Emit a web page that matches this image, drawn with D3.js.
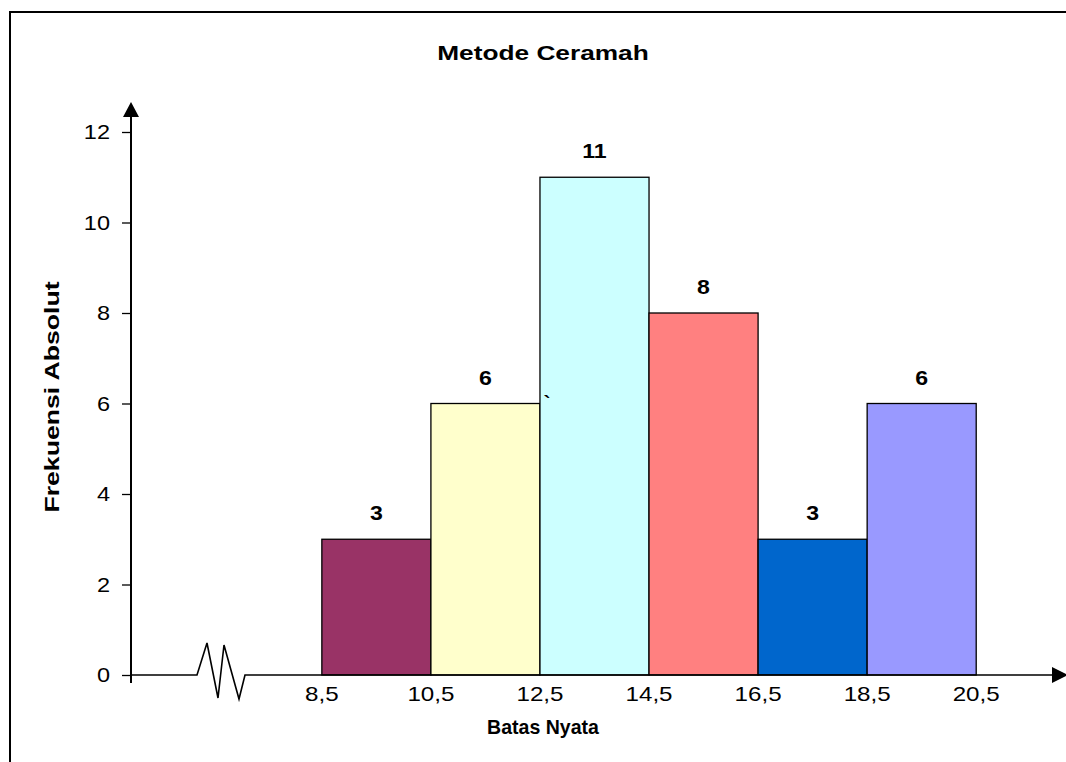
<!DOCTYPE html>
<html>
<head>
<meta charset="utf-8">
<script src="https://cdn.jsdelivr.net/npm/d3@7"></script>
<style>
  body { margin: 0; background: #fff; }
  svg { display: block; font-family: "Liberation Sans", Arial, sans-serif; }
</style>
</head>
<body>
<svg id="chart" width="1066" height="762"></svg>
<script>
// data
var binEdges = [8.5, 10.5, 12.5, 14.5, 16.5, 18.5, 20.5];
var edgeLabels = ["8,5", "10,5", "12,5", "14,5", "16,5", "18,5", "20,5"];
var freq = [3, 6, 11, 8, 3, 6];
var barColors = ["#993366", "#FFFFCC", "#CCFFFF", "#FF8080", "#0066CC", "#9999FF"];
var yTicks = [0, 2, 4, 6, 8, 10, 12];

var svg = d3.select("#chart");

// the original text is drawn a bit wider (or tighter) than normal Arial
function widen(sel, k) {
  sel.each(function() {
    var w = this.getComputedTextLength();
    d3.select(this).attr("textLength", w * k).attr("lengthAdjust", "spacingAndGlyphs");
  });
}

// outer frame
svg.append("rect")
    .attr("x", 10).attr("y", 12)
    .attr("width", 1100).attr("height", 800)
    .attr("fill", "none").attr("stroke", "#000").attr("stroke-width", 2);

var x = d3.scaleLinear().domain([5, 22]).range([131, 1058]);
var y = d3.scaleLinear().domain([0, 12]).range([675, 132]);

// bars
svg.selectAll(".bar")
    .data(freq)
  .enter().append("rect")
    .attr("class", "bar")
    .attr("x", function(d, i) { return x(binEdges[i]); })
    .attr("width", function(d, i) { return x(binEdges[i + 1]) - x(binEdges[i]); })
    .attr("y", function(d) { return y(d); })
    .attr("height", function(d) { return y(0) - y(d); })
    .attr("fill", function(d, i) { return barColors[i]; })
    .attr("stroke", "#000").attr("stroke-width", 1.3);

// value labels
svg.selectAll(".val")
    .data(freq)
  .enter().append("text")
    .attr("class", "val")
    .attr("x", function(d, i) { return (x(binEdges[i]) + x(binEdges[i + 1])) / 2; })
    .attr("y", function(d) { return y(d) - 19; })
    .attr("text-anchor", "middle")
    .attr("font-size", "21px").attr("font-weight", "bold")
    .text(function(d) { return d; })
    .call(widen, 1.1);

// stray mark from the original
svg.append("text")
    .attr("x", 547).attr("y", 410)
    .attr("text-anchor", "middle")
    .attr("font-size", "20px").attr("font-weight", "bold")
    .text("`");

// y axis
var yAxis = d3.axisLeft(y).tickValues(yTicks).tickSize(9).tickPadding(12);
var gy = svg.append("g")
    .attr("transform", "translate(" + x(5) + ",0)")
    .call(yAxis);
gy.select(".domain").remove();
gy.selectAll(".tick line").attr("stroke", "#000").attr("stroke-width", 1.3);
gy.selectAll(".tick text").attr("font-size", "21px").attr("fill", "#000")
    .attr("font-family", "Liberation Sans, Arial, sans-serif")
    .call(widen, 1.12);

svg.append("line")
    .attr("x1", x(5)).attr("x2", x(5))
    .attr("y1", y(0) + 8).attr("y2", 112)
    .attr("stroke", "#000").attr("stroke-width", 2);
svg.append("path")
    .attr("d", "M" + (x(5) - 8) + ",117 L" + x(5) + ",102 L" + (x(5) + 8) + ",117 Z")
    .attr("fill", "#000");

// x axis with break
var y0 = y(0);
svg.append("path")
    .attr("d", "M" + x(5) + "," + y0 + " L197," + y0 +
               " L207,643 L218,698 L224,645 L239,699 L245," + y0 +
               " L1056," + y0)
    .attr("fill", "none").attr("stroke", "#000").attr("stroke-width", 1.6);
svg.append("path")
    .attr("d", "M1052," + (y0 - 8) + " L1068," + y0 + " L1052," + (y0 + 8) + " Z")
    .attr("fill", "#000");

// x tick labels at bin edges
svg.selectAll(".xl")
    .data(edgeLabels)
  .enter().append("text")
    .attr("class", "xl")
    .attr("x", function(d, i) { return x(binEdges[i]); })
    .attr("y", 701)
    .attr("text-anchor", "middle")
    .attr("font-size", "21px")
    .text(function(d) { return d; })
    .call(widen, 1.15);

// titles
svg.append("text")
    .attr("x", 543).attr("y", 60)
    .attr("text-anchor", "middle")
    .attr("font-size", "21px").attr("font-weight", "bold")
    .text("Metode Ceramah")
    .call(widen, 1.25);

svg.append("text")
    .attr("x", 543).attr("y", 734)
    .attr("text-anchor", "middle")
    .attr("font-size", "21px").attr("font-weight", "bold")
    .text("Batas Nyata")
    .call(widen, 0.93);

svg.append("text")
    .attr("transform", "translate(59,397) rotate(-90)")
    .attr("text-anchor", "middle")
    .attr("font-size", "20px").attr("font-weight", "bold")
    .text("Frekuensi Absolut")
    .call(widen, 1.33);
</script>
</body>
</html>
